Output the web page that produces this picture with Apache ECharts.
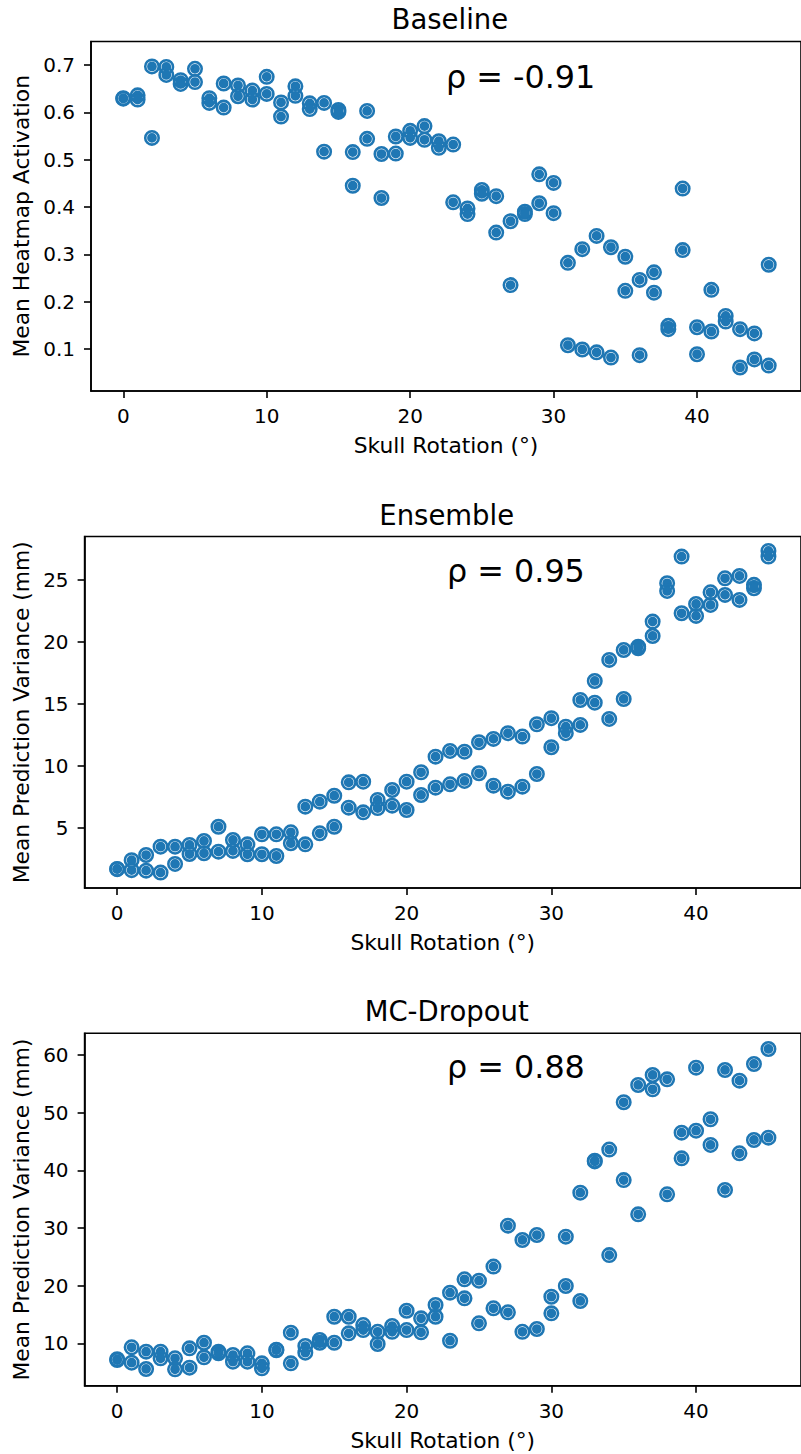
<!DOCTYPE html>
<html>
<head>
<meta charset="utf-8">
<script src="https://cdn.jsdelivr.net/npm/echarts@6/dist/echarts.min.js"></script>
<style>
html,body{margin:0;padding:0;background:#fff;}
#chart{width:801px;height:1454px;}
</style>
</head>
<body>
<div id="chart"></div>
<script>
// ---------------- data ----------------
const rotationDeg = [0,1,2,3,4,5,6,7,8,9,10,11,12,13,14,15,16,17,18,19,20,21,22,23,24,25,26,27,28,29,30,31,32,33,34,35,36,37,38,39,40,41,42,43,44,45];

const baselineRunA = [0.630,0.636,0.697,0.696,0.668,0.692,0.630,0.661,0.657,0.646,0.675,0.621,0.655,0.619,0.620,0.605,0.516,0.603,0.512,0.549,0.561,0.571,0.539,0.532,0.397,0.436,0.423,0.370,0.390,0.469,0.451,0.282,0.311,0.339,0.315,0.295,0.246,0.262,0.149,0.439,0.146,0.225,0.170,0.142,0.133,0.278];
const baselineRunB = [0.629,0.627,0.546,0.679,0.660,0.664,0.620,0.610,0.634,0.627,0.639,0.591,0.635,0.607,0.517,0.601,0.445,0.544,0.419,0.513,0.546,0.542,0.525,0.410,0.385,0.428,0.346,0.235,0.385,0.408,0.387,0.108,0.099,0.093,0.082,0.223,0.087,0.219,0.142,0.309,0.089,0.137,0.158,0.061,0.078,0.065];

const ensembleRunA = [1.70,2.40,2.82,3.49,3.49,3.63,3.95,5.10,4.03,3.68,4.49,4.49,4.65,6.72,7.12,7.60,8.68,8.73,7.26,8.06,8.73,9.49,10.75,11.21,11.15,11.91,12.18,12.64,12.37,13.36,13.85,13.17,15.32,16.85,18.55,19.35,19.62,21.64,24.73,26.88,23.06,24.00,25.13,25.32,24.60,27.34];
const ensembleRunB = [1.68,1.60,1.56,1.40,2.10,2.90,2.96,3.09,3.15,2.88,2.88,2.74,3.77,3.68,4.57,5.10,6.64,6.26,6.60,6.80,6.45,7.66,8.25,8.52,8.79,9.41,8.41,7.93,8.33,9.35,11.51,12.64,13.31,15.10,13.79,15.40,19.49,20.48,24.11,22.31,22.10,22.98,23.79,23.39,24.33,26.88];

const mcDropoutRunA = [7.10,9.31,8.55,8.55,7.40,9.13,10.10,8.55,7.97,8.27,6.53,8.90,11.84,9.53,10.57,14.61,14.61,13.17,12.00,13.00,15.65,14.33,16.64,18.78,21.10,20.86,23.30,30.40,27.92,28.78,18.08,28.49,36.12,41.67,43.60,51.80,54.80,56.53,55.78,46.53,57.80,48.85,57.40,55.55,58.44,61.04];
const mcDropoutRunB = [7.25,6.64,5.55,7.40,5.49,5.77,7.57,8.27,6.81,6.81,5.66,8.80,6.53,8.37,10.10,10.10,11.73,12.30,9.88,12.00,12.30,11.90,14.61,10.45,17.80,13.47,16.07,15.38,12.00,12.48,15.20,19.94,17.34,41.55,25.30,38.30,32.37,54.05,35.84,42.08,46.87,44.40,36.60,42.95,45.26,45.66];

const xTickValues = [0,10,20,30,40];
const baselineTickValues = [0.1,0.2,0.3,0.4,0.5,0.6,0.7];
const ensembleTickValues = [5,10,15,20,25];
const mcDropoutTickValues = [10,20,30,40,50,60];

const panelTitles = ['Baseline','Ensemble','MC-Dropout'];
const rhoLabels = ['ρ = -0.91','ρ = 0.95','ρ = 0.88'];
const yAxisTitles = ['Mean Heatmap Activation','Mean Prediction Variance (mm)','Mean Prediction Variance (mm)'];
const xAxisTitle = 'Skull Rotation (°)';

// ---------------- layout / style ----------------
const FONT = '"DejaVu Sans", "Liberation Sans", sans-serif';
const BLUE = '#1f77b4';
const panels = [
  {grid:{left:91, top:41.5, width:717.75, height:349.5}, yRange:[0.0113,0.7497], ticks:baselineTickValues, a:baselineRunA, b:baselineRunB, yGap:59},
  {grid:{left:84.6, top:536.5, width:724.2, height:351.5}, yRange:[0.16,28.5], ticks:ensembleTickValues, a:ensembleRunA, b:ensembleRunB, yGap:52.5},
  {grid:{left:84.6, top:1033.3, width:724.2, height:352.4}, yRange:[2.65,63.76], ticks:mcDropoutTickValues, a:mcDropoutRunA, b:mcDropoutRunB, yGap:52.5}
];
const titleY = [19.4, 514.5, 1011.2];
const rhoPos = [[446,76],[447,570],[447,1066.6]];

// ring marker: filled disc with a thin light ring inside
const MARKER = 'path://M50,0 A50,50 0 1,1 50,100 A50,50 0 1,1 50,0 Z ' +
               'M50,16 A34,34 0 1,0 50,84 A34,34 0 1,0 50,16 Z ' +
               'M50,19.5 A30.5,30.5 0 1,1 50,80.5 A30.5,30.5 0 1,1 50,19.5 Z';

const grids = [], xAxes = [], yAxes = [], series = [], graphics = [];
panels.forEach((p, i) => {
  grids.push(Object.assign({show:true, borderColor:'#000', borderWidth:1.6, backgroundColor:'#fff', containLabel:false}, p.grid));
  xAxes.push({
    type:'value', gridIndex:i, min:-2.25, max:47.25,
    name:xAxisTitle, nameLocation:'middle', nameGap:43.5,
    nameTextStyle:{fontFamily:FONT, fontSize:21.8, color:'#000'},
    axisLine:{show:true, onZero:false, lineStyle:{color:'#000', width:1.6}},
    axisTick:{show:true, customValues:xTickValues, length:7, lineStyle:{color:'#000', width:1.6}},
    axisLabel:{show:true, customValues:xTickValues, margin:15, fontFamily:FONT, fontSize:20, color:'#000'},
    splitLine:{show:false}
  });
  yAxes.push({
    type:'value', gridIndex:i, min:p.yRange[0], max:p.yRange[1],
    name:yAxisTitles[i], nameLocation:'middle', nameGap:p.yGap, nameRotate:90,
    nameTextStyle:{fontFamily:FONT, fontSize:21.8, color:'#000'},
    axisLine:{show:true, onZero:false, lineStyle:{color:'#000', width:1.6}},
    axisTick:{show:true, customValues:p.ticks, length:7, lineStyle:{color:'#000', width:1.6}},
    axisLabel:{show:true, customValues:p.ticks, margin:16, fontFamily:FONT, fontSize:20, color:'#000'},
    splitLine:{show:false}
  });
  const data = [];
  rotationDeg.forEach((x, k) => { data.push([x, p.a[k]]); data.push([x, p.b[k]]); });
  series.push({
    type:'scatter', xAxisIndex:i, yAxisIndex:i, data:data,
    symbol:MARKER, symbolSize:16,
    itemStyle:{color:BLUE, opacity:1},
    emphasis:{disabled:true}, silent:true
  });
  graphics.push({
    type:'text', x:p.grid.left + p.grid.width/2, y:titleY[i],
    style:{text:panelTitles[i], font:'27.5px ' + FONT, fill:'#000', align:'center', verticalAlign:'middle'}
  });
  graphics.push({
    type:'text', x:rhoPos[i][0], y:rhoPos[i][1],
    style:{text:rhoLabels[i], font:'31.8px ' + FONT, fill:'#000', align:'left', verticalAlign:'middle'}
  });
});

const chart = echarts.init(document.getElementById('chart'), null, {renderer:'svg', width:801, height:1454});
chart.setOption({
  animation:false,
  backgroundColor:'#fff',
  grid:grids, xAxis:xAxes, yAxis:yAxes, series:series,
  graphic:graphics
});
</script>
</body>
</html>
